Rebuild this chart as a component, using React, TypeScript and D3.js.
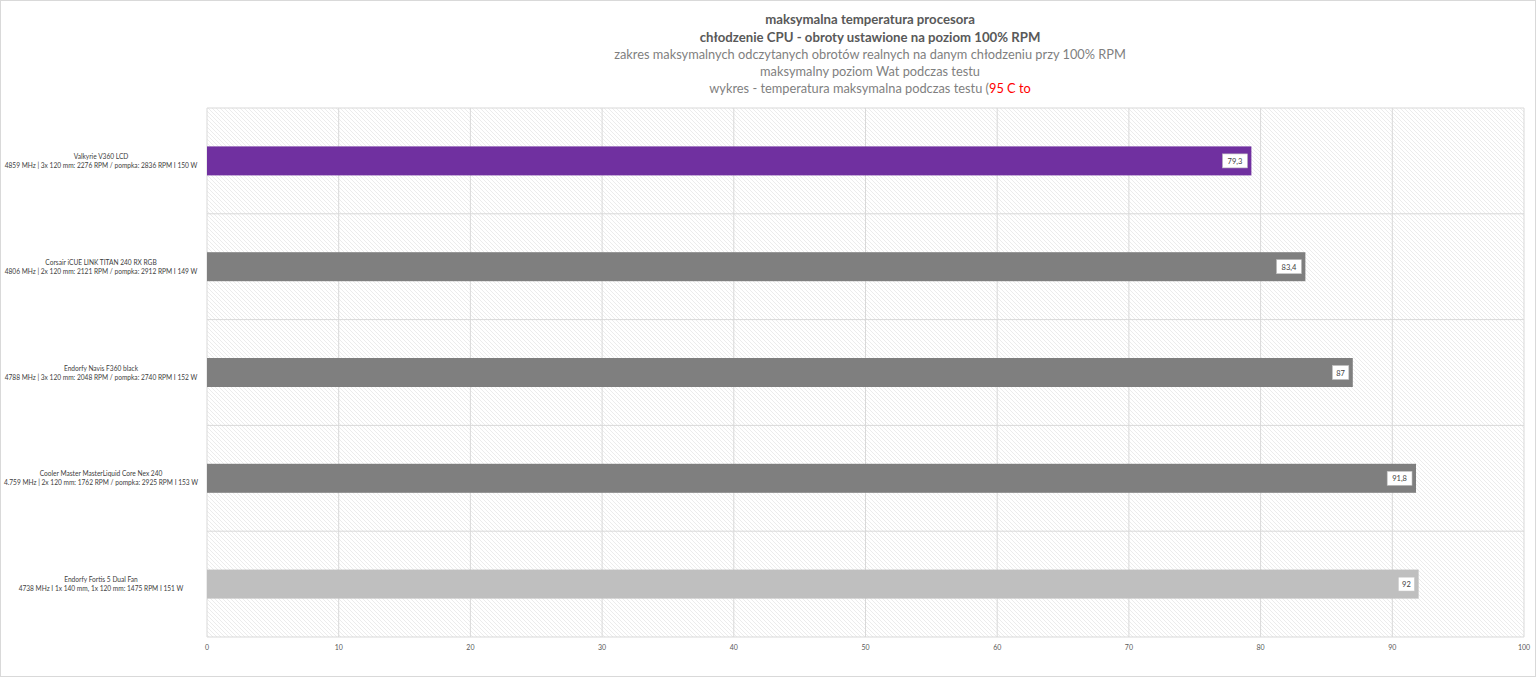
import React from "react";
import * as d3 from "d3";

const categories = [
  "Valkyrie V360 LCD",
  "Corsair iCUE LINK TITAN 240 RX RGB",
  "Endorfy Navis F360 black",
  "Cooler Master MasterLiquid Core Nex 240",
  "Endorfy Fortis 5 Dual Fan",
];
const subLabels = [
  "4859 MHz | 3x 120 mm: 2276 RPM / pompka: 2836 RPM I 150 W",
  "4806 MHz | 2x 120 mm: 2121 RPM / pompka: 2912 RPM I 149 W",
  "4788 MHz | 3x 120 mm: 2048 RPM / pompka: 2740 RPM I 152 W",
  "4.759 MHz | 2x 120 mm: 1762 RPM / pompka: 2925 RPM I 153 W",
  "4738 MHz I 1x 140 mm, 1x 120 mm: 1475 RPM I 151 W",
];
const values = [79.3, 83.4, 87, 91.8, 92];
const barColors = ["#7030A0", "#7F7F7F", "#7F7F7F", "#7F7F7F", "#BFBFBF"];
const ticks = [0, 10, 20, 30, 40, 50, 60, 70, 80, 90, 100];

const W = 1536;
const H = 677;
const left = 207;
const right = 1524;
const top = 108;
const bottom = 637;

export default function App() {
  const x = d3.scaleLinear().domain([0, 100]).range([left, right]);
  const y = d3
    .scaleBand<number>()
    .domain(d3.range(categories.length))
    .range([top, bottom])
    .paddingInner(0)
    .paddingOuter(0);
  const bw = y.bandwidth();
  const barH = 29;
  const fmt = (v: number) => String(v).replace(".", ",");
  const font = "Lato, 'Open Sans', sans-serif";

  return (
    <svg
      width={W}
      height={H}
      style={{ position: "absolute", left: 0, top: 0, background: "#fff" }}
      fontFamily={font}
    >
      <defs>
        <pattern id="hatch" width="4" height="4" patternUnits="userSpaceOnUse">
          <rect width="4" height="4" fill="#ffffff" />
          <path d="M-1,-1 L5,5 M-1,3 L1,5 M3,-1 L5,1" stroke="#e4e4e4" strokeWidth="0.7" />
        </pattern>
      </defs>
      <rect x={0.5} y={0.5} width={W - 1} height={H - 1} fill="#fff" stroke="#d9d9d9" />

      <g textAnchor="middle">
        <text x={870} y={24} fontSize={13.2} fontWeight="bold" fill="#595959">maksymalna temperatura procesora</text>
        <text x={870} y={42} fontSize={13.2} fontWeight="bold" fill="#595959">chłodzenie CPU - obroty ustawione na poziom 100% RPM</text>
        <text x={870} y={59} fontSize={12.8} fill="#7f7f7f">zakres maksymalnych odczytanych obrotów realnych na danym chłodzeniu przy 100% RPM</text>
        <text x={870} y={76} fontSize={12.8} fill="#7f7f7f">maksymalny poziom Wat podczas testu</text>
        <text x={870} y={93} fontSize={12.8} fill="#7f7f7f">
          wykres - temperatura maksymalna podczas testu (<tspan fill="#ff0000">95 C to</tspan>
        </text>
      </g>

      <rect x={left} y={top} width={right - left} height={bottom - top} fill="url(#hatch)" />

      {ticks.map((t) => (
        <line key={"v" + t} x1={x(t)} x2={x(t)} y1={top} y2={bottom} stroke="#d9d9d9" strokeWidth={1} />
      ))}
      {d3.range(categories.length + 1).map((i) => {
        const yy = i < categories.length ? (y(i) as number) : bottom;
        return <line key={"h" + i} x1={left} x2={right} y1={yy} y2={yy} stroke="#d9d9d9" strokeWidth={1} />;
      })}

      {values.map((v, i) => {
        const cy = (y(i) as number) + bw / 2;
        const x1 = x(v);
        const label = fmt(v);
        const lw = label.length * 4.2 + 8;
        return (
          <g key={"b" + i}>
            <rect x={x(0)} y={cy - barH / 2} width={x1 - x(0)} height={barH} fill={barColors[i]} />
            <rect x={x1 - 4 - lw} y={cy - 7} width={lw} height={14} fill="#fff" stroke="#bfbfbf" strokeWidth={0.6} />
            <text x={x1 - 4 - lw / 2} y={cy + 3} textAnchor="middle" fontSize={7.5} fill="#404040">
              {label}
            </text>
          </g>
        );
      })}

      {categories.map((c, i) => {
        const cy = (y(i) as number) + bw / 2;
        return (
          <g key={"l" + i} textAnchor="middle" fontSize={6.6} fill="#404040">
            <text x={101} y={cy - 2}>{c}</text>
            <text x={101} y={cy + 7}>{subLabels[i]}</text>
          </g>
        );
      })}

      {ticks.map((t) => (
        <text key={"t" + t} x={x(t)} y={650} textAnchor="middle" fontSize={7} fill="#595959">
          {t}
        </text>
      ))}
    </svg>
  );
}
